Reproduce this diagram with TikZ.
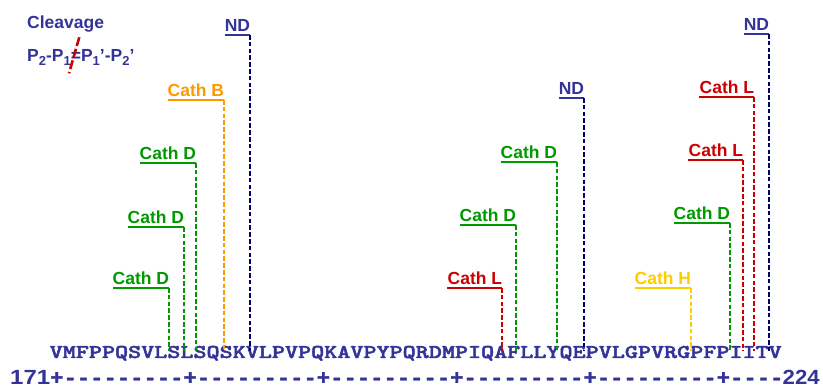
\documentclass[tikz,border=0pt]{standalone}
\usepackage{fontspec}
\usepackage{graphicx}
\newfontfamily\labfont{Liberation Sans}
\newfontfamily\rulfont{Liberation Mono}[FakeBold=1.5]
\newfontfamily\seqfont{lmmonolt10-bold}[Extension=.otf,FakeBold=2]
\definecolor{seqblue}{RGB}{51,51,153}
\definecolor{ndline}{RGB}{0,0,110}
\definecolor{cgreen}{RGB}{0,153,0}
\definecolor{corange}{RGB}{255,153,0}
\definecolor{cred}{RGB}{204,0,0}
\definecolor{cgold}{RGB}{255,204,0}
\newcommand\sbs[1]{\raisebox{-4.3pt}{\fontsize{13}{13}\selectfont #1}}
\newcommand\nodepth[1]{\raisebox{0pt}[\height][0pt]{#1}}
\tikzset{
  lab/.style={inner sep=0pt, font=\labfont\bfseries\fontsize{17.5}{20}\selectfont},
  uline/.style={line width=2.6pt},
  cut/.style={line width=2.6pt, dash pattern=on 4.6pt off 2.2pt},
}
\begin{document}
\begin{tikzpicture}[x=1pt,y=-1pt]
\useasboundingbox (0,0) rectangle (823,387);
% sequence
\node[inner sep=0pt, anchor=base west, text=seqblue, font=\seqfont\fontsize{19.5}{20}\selectfont] (seq) at (49.5,358)
  {\resizebox{732pt}{\height}{VMFPPQSVLSLSQSKVLPVPQKAVPYPQRDMPIQAFLLYQEPVLGPVRGPFPIITV}};
% ruler
\node[inner sep=0pt, anchor=base west, text=seqblue, font=\labfont\bfseries\fontsize{20.5}{22}\selectfont] (n171) at (10,384.5)
  {\nodepth{\resizebox{40pt}{\height}{171}}};
\node[inner sep=0pt, anchor=base west, text=seqblue, font=\rulfont\bfseries\fontsize{21}{22}\selectfont] (ruler) at (50,384.5)
  {\nodepth{\resizebox{733.3pt}{\height}{+---------+---------+---------+---------+---------+----}}};
\node[inner sep=0pt, anchor=base west, text=seqblue, font=\labfont\bfseries\fontsize{20.5}{22}\selectfont] (n224) at (782.5,384.5)
  {\nodepth{\resizebox{37pt}{\height}{224}}};
% cleavage legend
\node[lab, anchor=base west, text=seqblue] (clv) at (27,28.3) {Cleavage};
\node[lab, anchor=base west, text=seqblue] (pp) at (27,61.7)
  {P\sbs{2}-P\sbs{1}=P\sbs{1}’-P\sbs{2}’};
\coordinate (sl1) at (79.3,37.3);
\coordinate (sl2) at (69,73.3);
\draw[cred, line width=2.6pt, dash pattern=on 9pt off 3pt] (sl1) -- (sl2);
% cleavage sites
\foreach \n/\x/\y/\t/\c/\lc in {
  a/169/288/Cath D/cgreen/cgreen,
  b/184/227/Cath D/cgreen/cgreen,
  c/196/163/Cath D/cgreen/cgreen,
  d/224/100/Cath B/corange/corange,
  e/250/35/ND/seqblue/ndline,
  f/502/288/Cath L/cred/cred,
  g/516/225/Cath D/cgreen/cgreen,
  h/557/162/Cath D/cgreen/cgreen,
  i/584/98/ND/seqblue/ndline,
  j/691/288/Cath H/cgold/cgold,
  k/730/223/Cath D/cgreen/cgreen,
  l/743/160/Cath L/cred/cred,
  m/754/97/Cath L/cred/cred,
  o/769/34/ND/seqblue/ndline}{
  \node[lab, anchor=base east, text=\c] (lab\n) at (\x+0.3,\y-3.3) {\t};
  \coordinate (top\n) at (\x,\y);
  \coordinate (bot\n) at (\x,351);
  \draw[uline, draw=\c] (lab\n.west |- top\n) -- (top\n);
  \draw[cut, draw=\lc] (top\n) -- (bot\n);
}
\end{tikzpicture}
\end{document}
